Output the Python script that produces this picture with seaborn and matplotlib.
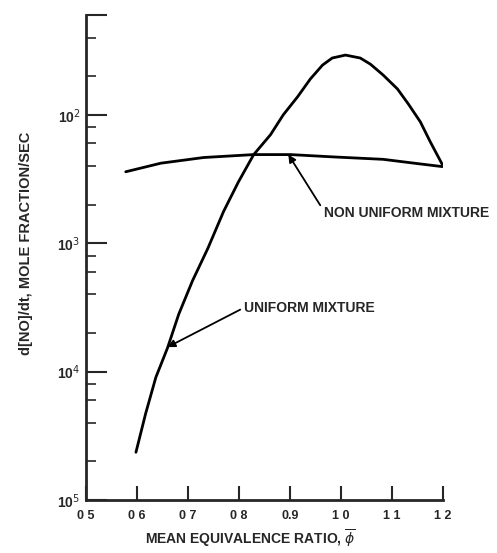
import numpy as np
import pandas as pd
import matplotlib
matplotlib.use("Agg")
import matplotlib.pyplot as plt
import matplotlib.ticker as mticker
import seaborn as sns

# values
phi_uniform = [0.598, 0.617, 0.637, 0.660, 0.682, 0.709, 0.739, 0.770, 0.799,
               0.829, 0.862, 0.887, 0.915, 0.940, 0.964, 0.983, 1.009, 1.038,
               1.058, 1.083, 1.111, 1.132, 1.156, 1.175, 1.199]
rate_uniform = [2.35e-5, 4.7e-5, 9.0e-5, 1.53e-4, 2.8e-4, 5.1e-4, 9.1e-4, 1.77e-3,
                3.0e-3, 4.9e-3, 7.0e-3, 1.0e-2, 1.38e-2, 1.9e-2, 2.44e-2, 2.77e-2,
                2.92e-2, 2.77e-2, 2.48e-2, 2.04e-2, 1.59e-2, 1.22e-2, 8.8e-3,
                6.2e-3, 4.1e-3]

phi_nonuniform = [0.578, 0.647, 0.731, 0.829, 0.901, 0.985, 1.083, 1.150, 1.199]
rate_nonuniform = [3.6e-3, 4.2e-3, 4.65e-3, 4.9e-3, 4.9e-3, 4.7e-3, 4.5e-3,
                   4.17e-3, 3.95e-3]

x_ticks = [0.5, 0.6, 0.7, 0.8, 0.9, 1.0, 1.1, 1.2]
x_labels = ["0 5", "0 6", "0 7", "0 8", "0.9", "1 0", "1 1", "1 2"]
y_ticks = [1e-5, 1e-4, 1e-3, 1e-2, 6e-2]
y_labels = ["10$^5$", "10$^4$", "10$^3$", "10$^2$", ""]

df = pd.concat([
    pd.DataFrame({"phi": phi_uniform, "rate": rate_uniform, "case": "uniform"}),
    pd.DataFrame({"phi": phi_nonuniform, "rate": rate_nonuniform, "case": "nonuniform"}),
])

sns.set_style("ticks")
plt.rcParams["font.family"] = ["Liberation Sans", "DejaVu Sans"]

fig = plt.figure(figsize=(4.97, 5.53), dpi=100)
ax = fig.add_axes([0.173, 0.096, 0.718, 0.877])

sns.lineplot(data=df, x="phi", y="rate", units="case", estimator=None,
             sort=False, color="black", lw=2, ax=ax)

ax.set_yscale("log")
ax.set_xlim(0.5, 1.2)
ax.set_ylim(1e-5, 6e-2)

ax.set_xticks(x_ticks)
ax.set_xticklabels(x_labels, fontsize=9, fontweight="bold")
ax.yaxis.set_major_locator(mticker.FixedLocator(y_ticks))
ax.yaxis.set_major_formatter(mticker.FixedFormatter(y_labels))
ax.yaxis.set_minor_locator(mticker.LogLocator(base=10, subs=[2, 4, 6, 8]))
ax.yaxis.set_minor_formatter(mticker.NullFormatter())
for lab in ax.get_yticklabels():
    lab.set_fontsize(10)
    lab.set_fontweight("bold")

ax.tick_params(axis="x", direction="in", length=10, width=1.5, pad=7)
ax.tick_params(axis="y", which="major", direction="in", length=15, width=1.5, pad=4)
ax.tick_params(axis="y", which="minor", direction="in", length=7, width=1.2)

for s in ["top", "right"]:
    ax.spines[s].set_visible(False)
for s in ["left", "bottom"]:
    ax.spines[s].set_linewidth(2)

ax.set_xlabel(r"MEAN EQUIVALENCE RATIO, $\overline{\phi}$", fontsize=10,
              fontweight="bold")
ax.set_ylabel("d[NO]/dt, MOLE FRACTION/SEC", fontsize=10.5, fontweight="bold")
ax.yaxis.set_label_coords(-0.148, 0.53)
ax.xaxis.set_label_coords(0.46, -0.058)

arrow = dict(arrowstyle="-|>", color="black", lw=1.3, mutation_scale=11,
             shrinkA=0, shrinkB=0)
ax.annotate("NON UNIFORM MIXTURE", xy=(0.897, 4.9e-3), xytext=(0.966, 1.71e-3),
            fontsize=10, fontweight="bold", va="center", ha="left",
            arrowprops=dict(arrow, relpos=(0, 0.7)))
ax.annotate("UNIFORM MIXTURE", xy=(0.660, 1.55e-4), xytext=(0.809, 3.13e-4),
            fontsize=10, fontweight="bold", va="center", ha="left",
            arrowprops=dict(arrow, relpos=(0, 0.5)))

fig.savefig("out.png", dpi=100)
